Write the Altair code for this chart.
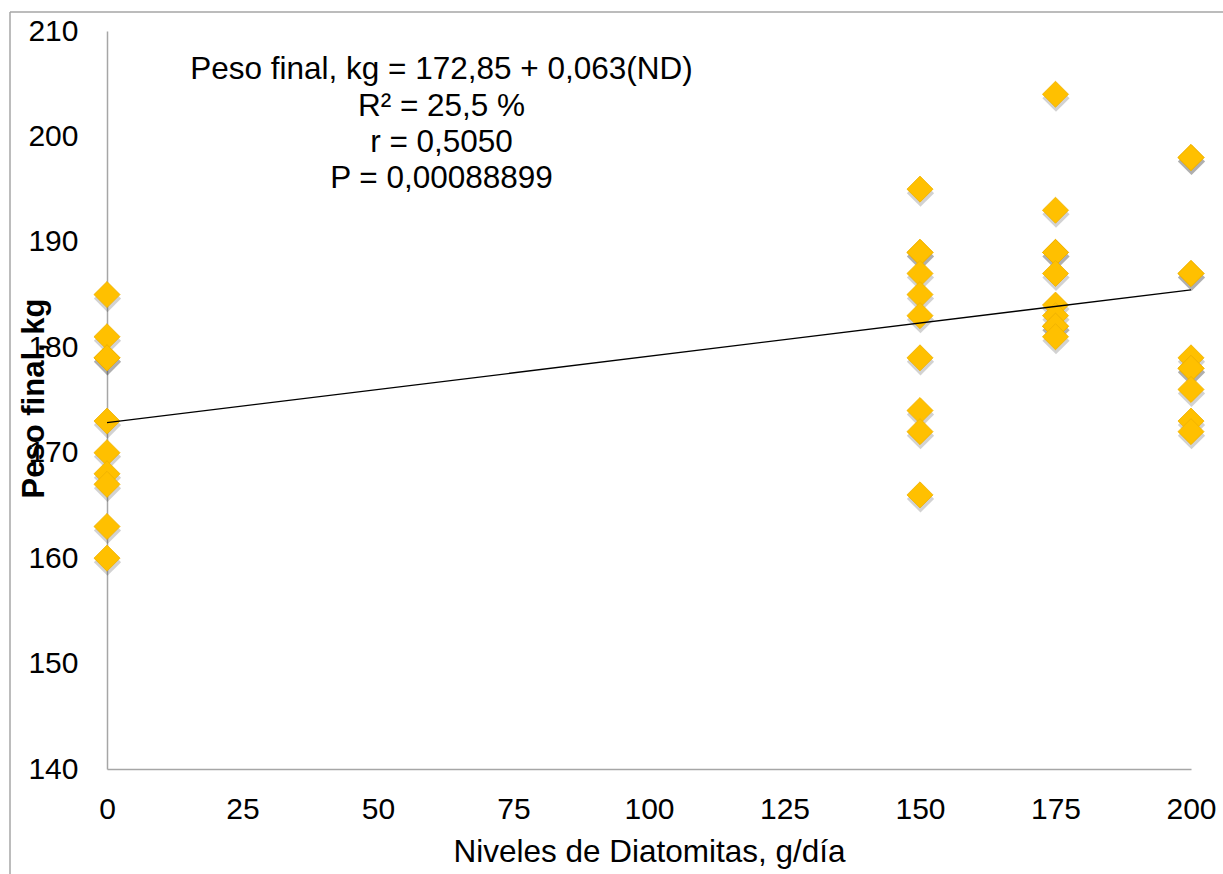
import altair as alt
import pandas as pd

# Niveles de diatomitas (g/día) and final weights (kg)
levels = [0, 150, 175, 200]
peso_0 = [185, 181, 179, 179, 173, 170, 168, 167, 163, 160]
peso_150 = [195, 189, 189, 187, 185, 183, 179, 174, 172, 166]
peso_175 = [204, 193, 189, 189, 187, 184, 183, 182, 182, 181]
peso_200 = [198, 198, 187, 187, 179, 178, 178, 176, 173, 172]

# Regression: Peso final = 172,85 + 0,063(ND)
intercept = 172.85
slope = 0.063
line_x = [0, 200]

annotation_lines = [
    "Peso final, kg = 172,85 + 0,063(ND)",
    "R² = 25,5 %",
    "r = 0,5050",
    "P = 0,00088899",
]

x_ticks = [0, 25, 50, 75, 100, 125, 150, 175, 200]
y_ticks = [140, 150, 160, 170, 180, 190, 200, 210]

rows = []
for lvl, vals in zip(levels, [peso_0, peso_150, peso_175, peso_200]):
    for v in vals:
        rows.append({"nd": lvl, "peso": v})
pts = pd.DataFrame(rows)
line_df = pd.DataFrame({"nd": line_x, "peso": [intercept + slope * v for v in line_x]})
one = pd.DataFrame({"k": [0]})
ann = pd.DataFrame({"t": [annotation_lines]})

FONT = "Liberation Sans"
GREY = "#A6A6A6"

xscale = alt.Scale(domain=[0, 200], nice=False, zero=False)
yscale = alt.Scale(domain=[140, 210], nice=False, zero=False)

xaxis = alt.Axis(
    values=x_ticks, grid=False, ticks=False, tickSize=0, labelPadding=25,
    labelFlush=False, labelOverlap=False,
    labelFontSize=30, labelFont=FONT, labelColor="#000000",
    domainColor=GREY, domainWidth=1.5,
    title="Niveles de Diatomitas, g/día", titleFontSize=31.5, titleFont=FONT,
    titleFontWeight="normal", titleColor="#000000",
    titleBaseline="alphabetic", titleY=92, titleX=542, titleAlign="center",
)
yaxis = alt.Axis(
    values=y_ticks, grid=False, ticks=False, tickSize=0, labelPadding=29,
    labelFlush=False, labelOverlap=False,
    labelFontSize=30, labelFont=FONT, labelColor="#000000",
    domainColor=GREY, domainWidth=1.5,
    title="Peso final, kg", titleFontSize=31, titleFont=FONT,
    titleFontWeight="bold", titleColor="#000000",
    titleAngle=270, titleBaseline="alphabetic", titleAlign="center",
    titleX=-64, titleY=367,
)

border_left = alt.Chart(one).mark_rule(color=GREY, strokeWidth=1.5).encode(
    x=alt.value(-97), y=alt.value(-19), y2=alt.value(900)
)
border_top = alt.Chart(one).mark_rule(color=GREY, strokeWidth=1.5).encode(
    y=alt.value(-19), x=alt.value(-97), x2=alt.value(1200)
)

shadow = alt.Chart(pts).mark_point(
    shape="diamond", filled=True, size=740, color="#333333", opacity=0.22,
    xOffset=0.5, yOffset=4,
).encode(
    x=alt.X("nd:Q", scale=xscale, axis=xaxis),
    y=alt.Y("peso:Q", scale=yscale, axis=yaxis),
)

points = alt.Chart(pts).mark_point(
    shape="diamond", filled=True, size=680, fill="#FFC000", opacity=1,
    stroke="#EDB000", strokeWidth=0.8,
).encode(
    x=alt.X("nd:Q", scale=xscale),
    y=alt.Y("peso:Q", scale=yscale),
)

trend = alt.Chart(line_df).mark_line(color="#000000", strokeWidth=1.3).encode(
    x=alt.X("nd:Q", scale=xscale),
    y=alt.Y("peso:Q", scale=yscale),
)

text = alt.Chart(ann).mark_text(
    font=FONT, fontSize=31.5, align="center", baseline="alphabetic",
    lineHeight=36.3, color="#000000",
).encode(
    x=alt.value(334.5), y=alt.value(48.3), text="t"
)

chart = alt.layer(border_left, border_top, shadow, points, trend, text).properties(
    width=1084, height=738,
    padding={"left": 107, "top": 31, "right": 32, "bottom": 105},
    autosize=alt.AutoSizeParams(type="none"),
).configure(background="#FFFFFF").configure_view(strokeWidth=0, stroke="transparent")

chart.save("out.html", embed_options={"renderer": "svg", "actions": False})
